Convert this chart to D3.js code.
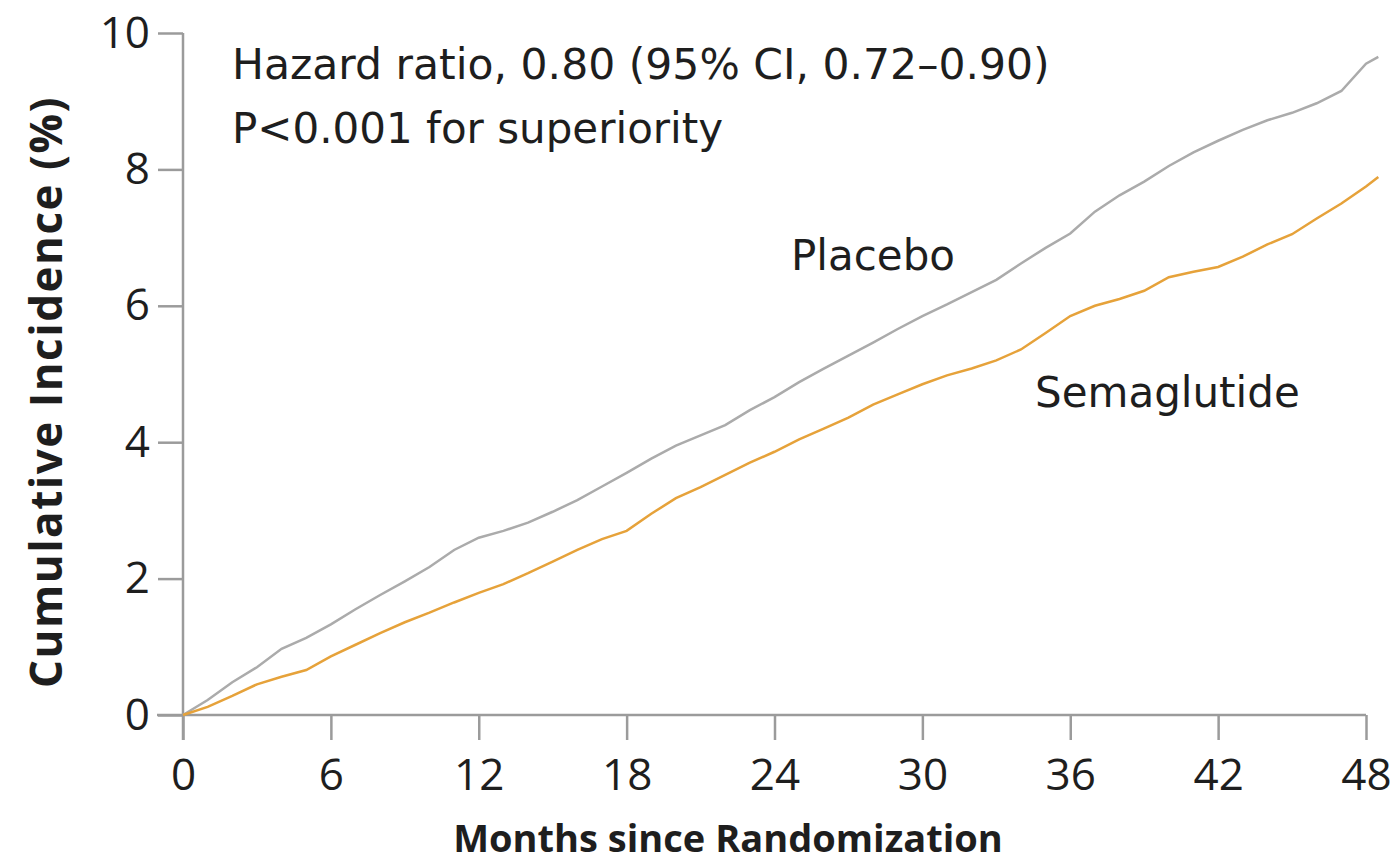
<!DOCTYPE html>
<html>
<head>
<meta charset="utf-8">
<script src="https://cdn.jsdelivr.net/npm/d3@7"></script>
<style>
  body { margin: 0; background: #fff; }
  svg text { font-family: "Open Sans", sans-serif; fill: #1e1e1e; }
  svg text.note { font-family: "DejaVu Sans", sans-serif; }
</style>
</head>
<body>
<div id="chart"><svg width="1396" height="868"></svg></div>
<script>
// months and cumulative incidence (%)
const months = [0,1,2,3,4,5,6,7,8,9,10,11,12,13,14,15,16,17,18,19,20,21,22,23,24,
    25,26,27,28,29,30,31,32,33,34,35,36,37,38,39,40,41,42,43,44,45,46,47,48,48.5];
const placebo = [0,0.22,0.48,0.70,0.97,1.13,1.33,1.55,1.76,1.96,2.17,2.42,2.60,2.70,2.82,2.98,3.15,3.35,3.55,3.76,3.95,4.10,4.25,4.47,4.66,
    4.88,5.08,5.27,5.46,5.66,5.85,6.02,6.20,6.38,6.62,6.85,7.06,7.38,7.62,7.82,8.05,8.25,8.42,8.58,8.72,8.83,8.97,9.15,9.55,9.65];
const semaglutide = [0,0.12,0.28,0.45,0.56,0.66,0.86,1.03,1.20,1.36,1.50,1.65,1.79,1.92,2.08,2.25,2.42,2.58,2.70,2.95,3.18,3.34,3.52,3.70,3.86,
    4.04,4.20,4.36,4.55,4.70,4.85,4.98,5.08,5.20,5.36,5.60,5.85,6.00,6.10,6.22,6.42,6.50,6.57,6.72,6.90,7.05,7.28,7.50,7.75,7.89];
const xTicks = [0,6,12,18,24,30,36,42,48];
const yTicks = [0,2,4,6,8,10];

const svg = d3.select("svg");
const x = d3.scaleLinear().domain([0, 48]).range([183, 1366]);
const y = d3.scaleLinear().domain([0, 10]).range([715, 33]);
const axisColor = "#9b9b9b";

// x axis
const gx = svg.append("g").attr("transform", "translate(0,715)")
    .call(d3.axisBottom(x).tickValues(xTicks).tickSize(25).tickSizeOuter(0).tickPadding(10));
gx.select(".domain").remove();
gx.append("line").attr("x1", 157).attr("x2", x(48)).attr("stroke", axisColor).attr("stroke-width", 2.5);
gx.selectAll(".tick line").attr("stroke", axisColor).attr("stroke-width", 2.5);
gx.selectAll(".tick text").attr("font-size", 44).attr("dy", "0.9em");

// y axis
const gy = svg.append("g").attr("transform", "translate(183,0)")
    .call(d3.axisLeft(y).tickValues(yTicks).tickSize(25).tickSizeOuter(0).tickPadding(8));
gy.select(".domain").remove();
gy.append("line").attr("y1", y(10)).attr("y2", 740).attr("stroke", axisColor).attr("stroke-width", 2.5);
gy.selectAll(".tick line").attr("stroke", axisColor).attr("stroke-width", 2.5);
gy.selectAll(".tick text").attr("font-size", 44);

// curves
const line = d3.line().x((d, i) => x(months[i])).y(d => y(d));
svg.append("path").datum(placebo).attr("d", line)
    .attr("fill", "none").attr("stroke", "#ababab").attr("stroke-width", 2.5);
svg.append("path").datum(semaglutide).attr("d", line)
    .attr("fill", "none").attr("stroke", "#e6a23a").attr("stroke-width", 2.5);

// labels
svg.append("text").attr("class", "note").attr("x", 232).attr("y", 79).attr("font-size", 42.5)
    .text("Hazard ratio, 0.80 (95% CI, 0.72–0.90)");
svg.append("text").attr("class", "note").attr("x", 232).attr("y", 143).attr("font-size", 42)
    .text("P<0.001 for superiority");
svg.append("text").attr("class", "note").attr("x", 791).attr("y", 270).attr("font-size", 42).text("Placebo");
svg.append("text").attr("class", "note").attr("x", 1035).attr("y", 407).attr("font-size", 42).text("Semaglutide");

svg.append("text").attr("x", 728).attr("y", 852).attr("text-anchor", "middle")
    .attr("font-size", 38).attr("font-weight", "bold").text("Months since Randomization");
svg.append("text").attr("transform", "translate(62,392) rotate(-90)").attr("text-anchor", "middle")
    .attr("font-size", 44).attr("font-weight", "bold").attr("letter-spacing", 1.5)
    .text("Cumulative Incidence (%)");
</script>
</body>
</html>
